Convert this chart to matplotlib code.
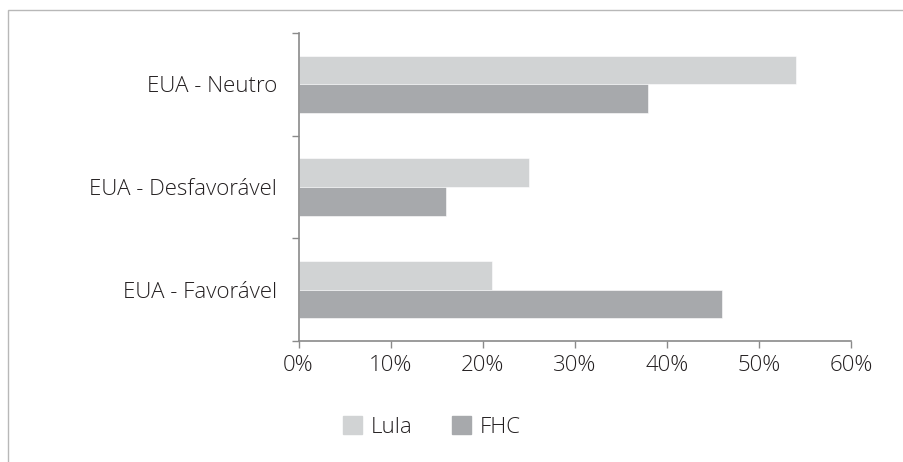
import numpy as np
import matplotlib.pyplot as plt
from matplotlib.patches import Rectangle, Patch
from matplotlib.ticker import FuncFormatter

# dados (percentuais)
categories = ['EUA - Favorável', 'EUA - Desfavorável', 'EUA - Neutro']
lula = [21, 25, 54]
fhc = [46, 16, 38]
x_ticks = [0, 10, 20, 30, 40, 50, 60]

LULA_COLOR = '#d1d3d4'
FHC_COLOR = '#a7a9ac'
AXIS_COLOR = '#8a8a8a'
TEXT_COLOR = '#231f20'
FS = 16

plt.rcParams['font.family'] = ['Open Sans', 'DejaVu Sans']
plt.rcParams['font.weight'] = 'light'

fig = plt.figure(figsize=(9.04, 4.62), dpi=100)
ax = fig.add_axes([298.5 / 904, 1 - 341 / 462, 552.5 / 904, 308 / 462])

y = np.arange(len(categories))
h = 0.28
ax.barh(y + h / 2, lula, height=h, color=LULA_COLOR, edgecolor='white', linewidth=0.4, label='Lula')
ax.barh(y - h / 2, fhc, height=h, color=FHC_COLOR, edgecolor='white', linewidth=0.4, label='FHC')

ax.set_xlim(0, 60)
ax.set_ylim(-0.5, len(categories) - 0.5)
ax.set_xticks(x_ticks)
ax.xaxis.set_major_formatter(FuncFormatter(lambda v, p: f'{v:.0f}%'))

ax.set_yticks(y)
ax.set_yticklabels(categories)
ax.set_yticks(np.arange(-0.5, len(categories), 1.0), minor=True)
ax.tick_params(axis='y', which='major', length=0, pad=15.5, labelsize=FS, labelcolor=TEXT_COLOR)
ax.tick_params(axis='y', which='minor', length=5, width=1, color=AXIS_COLOR, direction='out')
ax.tick_params(axis='x', length=5, width=1, color=AXIS_COLOR, pad=5, labelsize=FS, labelcolor=TEXT_COLOR)

for s in ['top', 'right']:
    ax.spines[s].set_visible(False)
for s in ['left', 'bottom']:
    ax.spines[s].set_color(AXIS_COLOR)
    ax.spines[s].set_linewidth(1.2)

handles = [Patch(color=LULA_COLOR, label='Lula'), Patch(color=FHC_COLOR, label='FHC')]
fig.legend(handles=handles, loc='center', bbox_to_anchor=(432 / 904, 0.076), ncol=2,
           frameon=False, fontsize=FS, handlelength=0.85, handleheight=0.85,
           handletextpad=0.4, columnspacing=1.75, labelcolor=TEXT_COLOR)

# moldura
fig.add_artist(Rectangle((7.5 / 904, -0.1), 1.2, 1.1 - 10 / 462, transform=fig.transFigure,
                         fill=False, edgecolor='#b8b8b8', linewidth=1))

fig.savefig('out.png', dpi=100)
